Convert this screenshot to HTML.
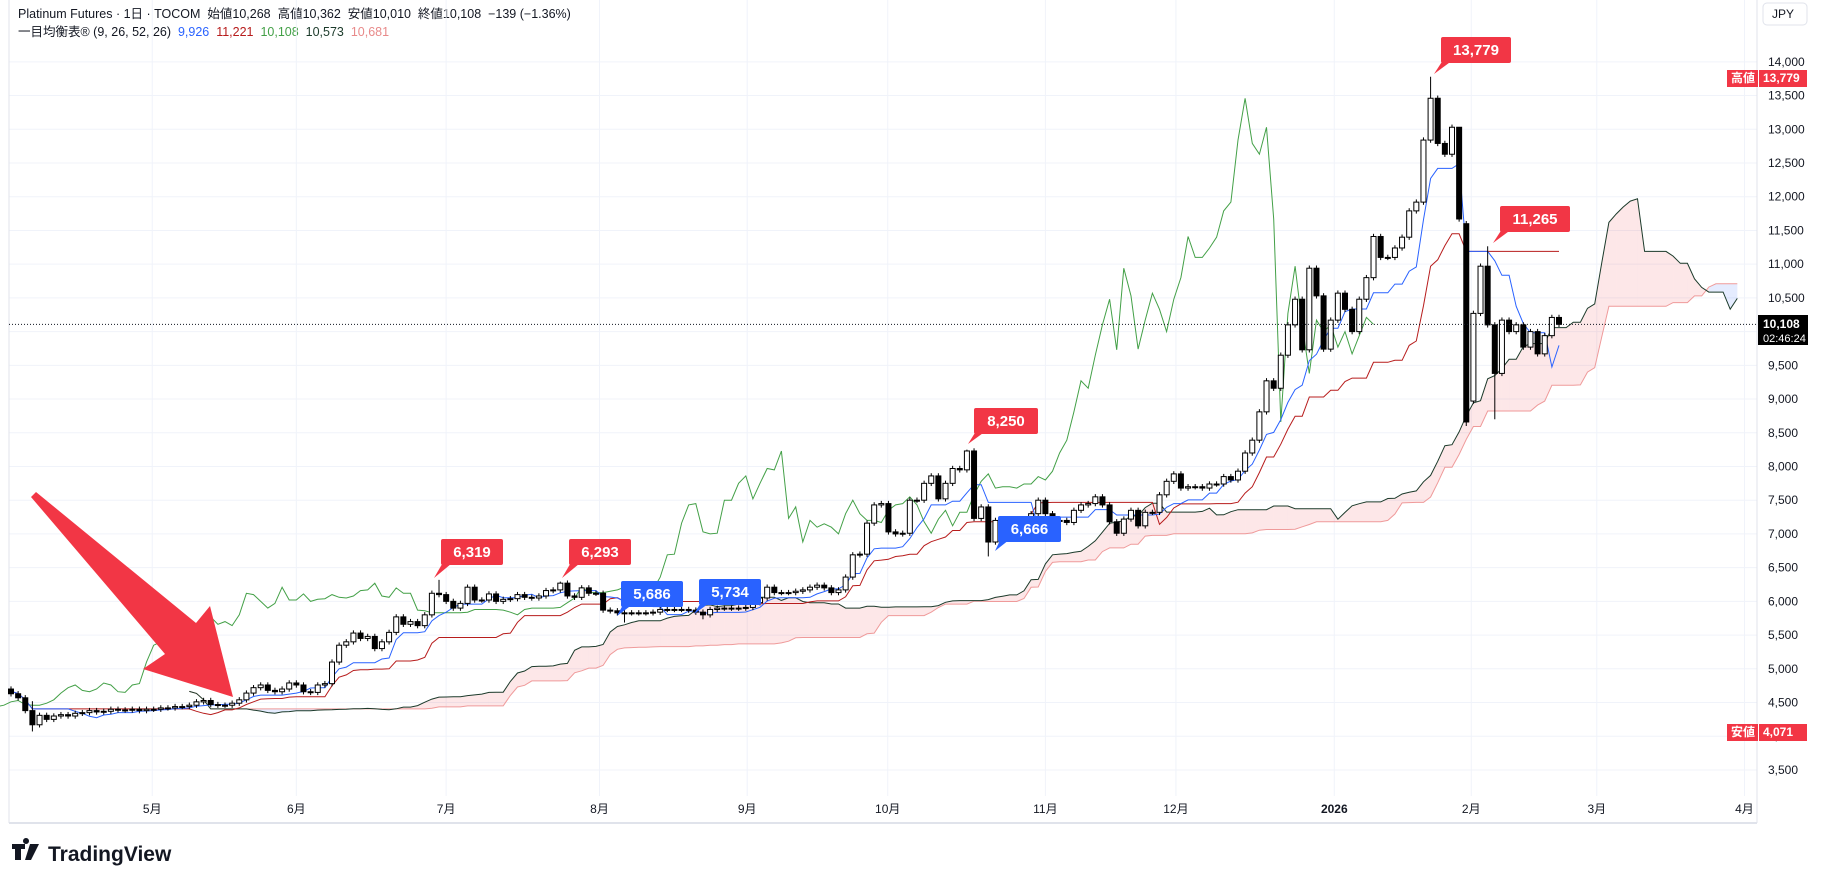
<!DOCTYPE html>
<html><head><meta charset="utf-8">
<style>
body{margin:0;background:#fff;width:1827px;height:884px;overflow:hidden;font-family:"Liberation Sans","Noto Sans CJK JP",sans-serif;}
#wrap{position:relative;width:1827px;height:884px;}
.hdr{position:absolute;left:18px;font-size:12.5px;color:#131722;white-space:nowrap}
</style></head><body>
<div id="wrap">
<div class="hdr" style="top:3px">Platinum Futures · 1日 · TOCOM&nbsp;&nbsp;始値10,268&nbsp;&nbsp;高値10,362&nbsp;&nbsp;安値10,010&nbsp;&nbsp;終値10,108&nbsp;&nbsp;−139 (−1.36%)</div>
<div class="hdr" style="top:21px">一目均衡表® (9, 26, 52, 26)&nbsp;&nbsp;<span style="color:#2962ff">9,926</span>&nbsp;&nbsp;<span style="color:#b71c1c">11,221</span>&nbsp;&nbsp;<span style="color:#43a047">10,108</span>&nbsp;&nbsp;<span style="color:#1b3a2a">10,573</span>&nbsp;&nbsp;<span style="color:#e88a8a">10,681</span></div>
<svg id="chart" width="1827" height="884" style="position:absolute;left:0;top:0" xmlns="http://www.w3.org/2000/svg"></svg>
</div>
<script>
const closes=[4630,4570,4380,4170,4310,4250,4300,4320,4300,4340,4350,4380,4360,4370,4400,4390,4390,4400,4380,4400,4400,4420,4420,4440,4440,4460,4510,4530,4470,4460,4460,4490,4540,4640,4720,4760,4680,4660,4700,4790,4760,4660,4650,4760,4780,5100,5350,5400,5530,5450,5480,5300,5400,5540,5770,5660,5700,5640,5800,6120,6100,6000,5900,5970,6210,6020,6020,6110,6000,6030,6040,6100,6060,6050,6080,6160,6170,6270,6080,6060,6200,6120,6120,5870,
5860,5830,5830,5830,5830,5830,5840,5880,5880,5880,5880,5870,5840,5800,5880,5900,5900,5900,5900,5910,
5980,6050,6210,6130,6130,6130,6150,6170,6210,6240,6200,6130,6170,6360,6690,6700,7160,7430,7450,7030,7000,7010,7500,7500,7750,7860,7520,7750,7970,7950,8230,7230,7400,6880,7200,7100,7150,7100,7000,7300,7500,7300,7200,7200,7170,7350,7430,7450,7550,7430,7180,7010,7220,7350,7120,7320,7320,7580,7780,7890,
7680,7700,7700,7680,7740,7740,7850,7800,7930,8200,8390,8810,9270,9160,9650,10100,10480,9730,10940,10530,9740,10170,10570,10330,10000,10480,10800,11410,11100,11100,11240,11400,11790,11920,12840,13460,12790,12630,13030,11670,8660,10270,10970,10100,9380,10170,10000,10100,9770,10000,9670,9940,10210,10108];
const firstOpen=4700;
const highIdx=[3,60,77,134,199,203,207];
const highVal=[4520,6319,6293,8250,13779,12150,11265];
const lowIdx=[3,86,97,137,204,208];
const lowVal=[4071,5686,5734,6666,8600,8700];
const priceTicks=[3500,4000,4500,5000,5500,6000,6500,7000,7500,8000,8500,9000,9500,10000,10500,11000,11500,12000,12500,13000,13500,14000];
const monthLabels=["5月","6月","7月","8月","9月","10月","11月","12月","2026","2月","3月","4月"];
const monthIdx=[19.8,40,61,82.5,103.2,122.9,145,163.3,185.5,204.7,222.3,243];

const svg=document.getElementById('chart');const NS='http://www.w3.org/2000/svg';
function mk(t,a,p){const e=document.createElementNS(NS,t);for(const k in a)e.setAttribute(k,a[k]);(p||svg).appendChild(e);return e;}
const N=closes.length;const step=1548/(N-1);
const X=i=>11+i*step;
const Y=p=>331.6-(p-10000)*0.06744;
const opens=closes.map((c,i)=>i?closes[i-1]:firstOpen);
opens[204]=11600;opens[205]=8970;
const highs=closes.map((c,i)=>Math.max(c,opens[i])+40);
const lows=closes.map((c,i)=>Math.min(c,opens[i])-40);
highIdx.forEach((k,j)=>{highs[k]=highVal[j];});
lowIdx.forEach((k,j)=>{lows[k]=lowVal[j];});

// grid
const grid=mk('g',{});
priceTicks.forEach(p=>{mk('line',{x1:9,x2:1757,y1:Y(p),y2:Y(p),stroke:'#f0f3fa','stroke-width':1},grid);
 const t=mk('text',{x:1768,y:Y(p)+4,'font-size':12,fill:'#131722'});t.textContent=p.toLocaleString('en-US');
 });
monthLabels.forEach((m,j)=>{const x=X(monthIdx[j]);mk('line',{x1:x,x2:x,y1:0,y2:796,stroke:'#f0f3fa'},grid);
 const t=mk('text',{x:x,y:813,'font-size':12,fill:'#131722','text-anchor':'middle','font-weight':m==='2026'?'bold':'normal'});t.textContent=m;
 });
mk('line',{x1:9,x2:1757,y1:823,y2:823,stroke:'#e0e3eb','stroke-width':2});
mk('line',{x1:9,x2:9,y1:0,y2:823,stroke:'#e0e3eb'});
mk('line',{x1:1757,x2:1757,y1:0,y2:823,stroke:'#e0e3eb'});

// ichimoku
function mid(a,b){let h=-1e9,l=1e9;for(let k=Math.max(0,a);k<=b;k++){h=Math.max(h,highs[k]);l=Math.min(l,lows[k]);}return (h+l)/2;}
const ten=closes.map((c,i)=>mid(i-8,i)),kij=closes.map((c,i)=>mid(i-25,i));
const spanA=[],spanB=[];
for(let i=0;i<N;i++){spanA[i+25]=(ten[i]+kij[i])/2;spanB[i+25]=mid(i-51,i);}
const cloud=mk('g',{});
for(let i=25;i<N+24;i++){const a0=spanA[i],a1=spanA[i+1],b0=spanB[i],b1=spanB[i+1];
 mk('polygon',{points:`${X(i)},${Y(a0)} ${X(i+1)},${Y(a1)} ${X(i+1)},${Y(b1)} ${X(i)},${Y(b0)}`,fill:(a0+a1>=b0+b1)?'rgba(242,54,69,0.12)':'rgba(41,98,255,0.12)',stroke:'none'},cloud);}
function line(arr,off,col,name,w){let d='';arr.forEach((v,i)=>{if(v===undefined)return;d+=(d?'L':'M')+X(i+off).toFixed(1)+','+Y(v).toFixed(1);});
 const p=mk('path',{d:d,fill:'none',stroke:col,'stroke-width':w||1});}
line(spanB,0,'#ef9a9a','leading-span-b');
line(spanA,0,'#1b3a2a','leading-span-a');
line(closes,-26,'#43a047','lagging-span');
line(kij,0,'#b71c1c','base-line');
line(ten,0,'#2962ff','conversion-line');

// candles
const cg=mk('g',{});
for(let i=0;i<N;i++){const x=X(i),o=opens[i],c=closes[i],up=c>=o;
 mk('line',{x1:x,x2:x,y1:Y(highs[i]),y2:Y(lows[i]),stroke:'#000','stroke-width':1},cg);
 const top=Y(Math.max(o,c)),h=Math.max(1,Y(Math.min(o,c))-top);
 const r=mk('rect',{x:x-2.5,y:top,width:5,height:h,fill:up?'#fff':'#000',stroke:'#000','stroke-width':1},cg);
 }

// current price line
mk('line',{x1:9,x2:1757,y1:Y(closes[N-1]),y2:Y(closes[N-1]),stroke:'#131722','stroke-dasharray':'1,2'});

// callouts
function callout(x,y,w,txt,col,tx,ty,name){const g=mk('g',{});
 mk('polygon',{points:`${x+4},${y+20} ${x+16},${y+20} ${tx},${ty}`,fill:col},g);
 mk('rect',{x:x,y:y,width:w,height:26,rx:2,fill:col},g);
 const t=mk('text',{x:x+w/2,y:y+18,'font-size':15,'font-weight':'bold',fill:'#fff','text-anchor':'middle'},g);t.textContent=txt;}
const R='#f23645',B='#2962ff';
callout(441,539,62,'6,319',R,434,578,'high-callout-6319');
callout(569,539,62,'6,293',R,562,578,'high-callout-6293');
callout(974,408,64,'8,250',R,968,444,'high-callout-8250');
callout(1441,37,70,'13,779',R,1434,74,'high-callout-13779');
callout(1500,206,70,'11,265',R,1493,243,'high-callout-11265');
callout(621,581,62,'5,686',B,617,616,'low-callout-5686');
callout(699,579,62,'5,734',B,694,614,'low-callout-5734');
callout(998,516,63,'6,666',B,995,551,'low-callout-6666');

// arrow
const ar=mk('polygon',{points:'31,497 36,492 196,623 210,606 233,697 143,669 165,654',fill:'#f23645'});


// axis badges
function badge(x,y,w,h,col,txt,fs,name){const g=mk('g',{});
 mk('rect',{x:x,y:y,width:w,height:h,fill:col},g);const t=mk('text',{x:x+4,y:y+h-5,'font-size':fs,fill:'#fff','font-weight':'bold'},g);t.textContent=txt;}
badge(1727,70,31,17,R,'高値',12,'high-tag');badge(1759,70,48,17,R,'13,779',12,'high-price-badge');
badge(1727,724,31,17,R,'安値',12,'low-tag');badge(1759,724,48,17,R,'4,071',12,'low-price-badge');
const cp=mk('g',{});
mk('rect',{x:1758,y:315,width:50,height:30,fill:'#000'},cp);
let t=mk('text',{x:1763,y:328,'font-size':12,'font-weight':'bold',fill:'#fff'},cp);t.textContent='10,108';
t=mk('text',{x:1763,y:342,'font-size':11,fill:'#fff'},cp);t.textContent='02:46:24';
const jp=mk('g',{});
mk('rect',{x:1763,y:3,width:44,height:22,rx:4,fill:'#fff',stroke:'#e0e3eb'},jp);
t=mk('text',{x:1772,y:18,'font-size':12,fill:'#131722'},jp);t.textContent='JPY';
// logo
const lg=mk('g',{});
mk('path',{d:'M12 844h13v5h-4v11h-6v-11h-3z M26 844a3 3 0 1 1 0.01 0z M30 844h9l-8 16h-6z',fill:'#131722'},lg);
t=mk('text',{x:48,y:861,'font-size':21,'font-weight':'bold',fill:'#131722'},lg);t.textContent='TradingView';
</script>
</body></html>
